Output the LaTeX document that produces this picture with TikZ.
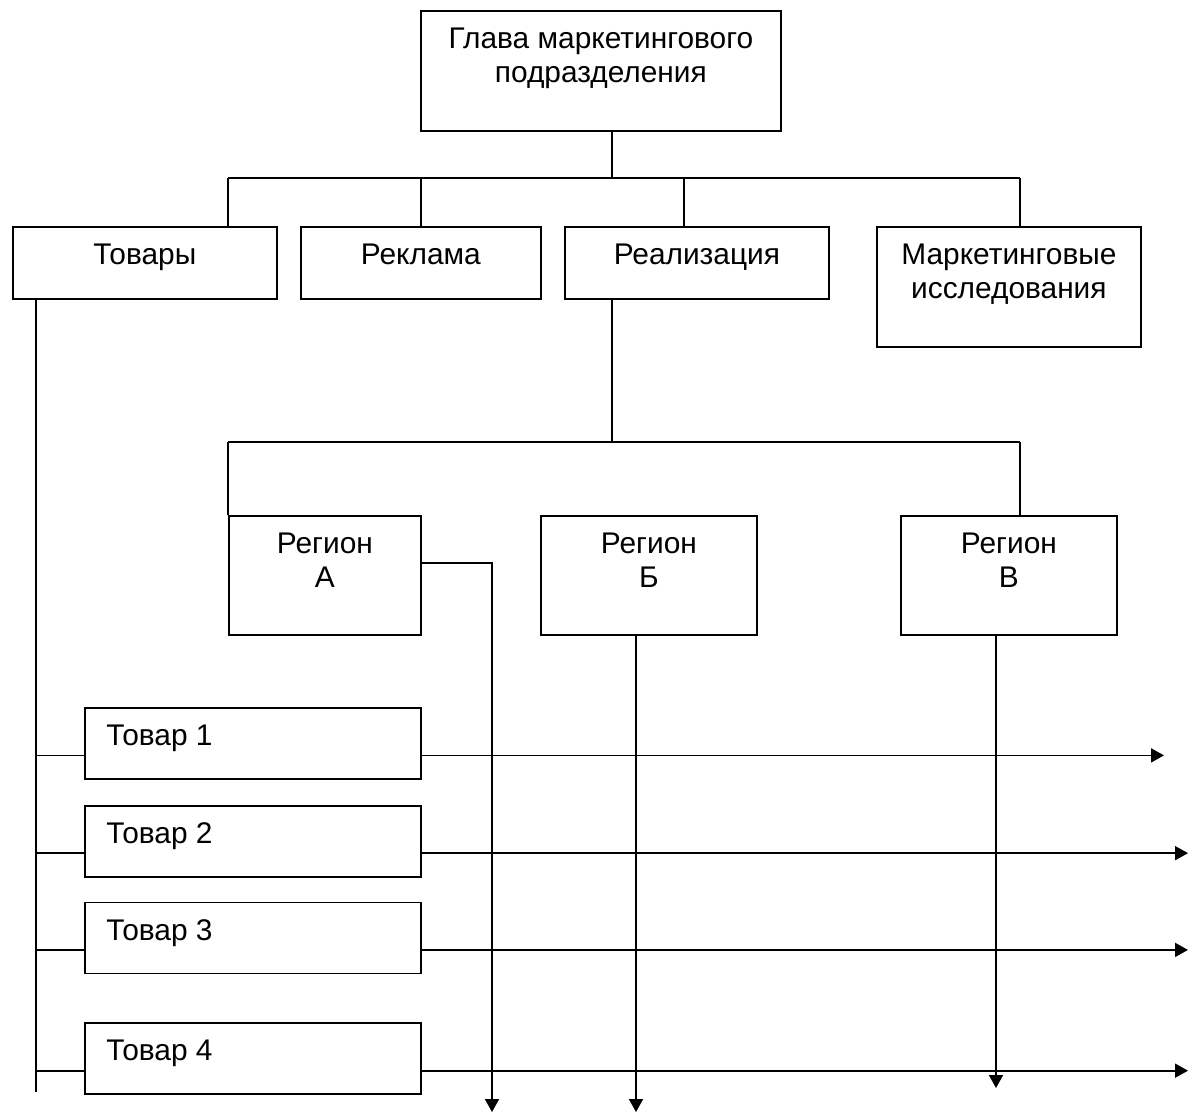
\documentclass[tikz,border=0pt]{standalone}
\usepackage{fontspec}
\setmainfont{Liberation Sans}
\usetikzlibrary{arrows.meta,positioning}
\begin{document}
\begin{tikzpicture}[
    box/.style={draw, line width=1pt, anchor=north west, inner sep=0pt},
    txt/.style={anchor=north, yshift=-0.36cm, inner sep=0pt, align=center},
    txtl/.style={anchor=north west, xshift=0.44cm, yshift=-0.35cm, inner sep=0pt},
    line/.style={line width=1pt},
    arr/.style={line width=1pt, -{Triangle[length=0.26cm,width=0.28cm]}},
    font=\fontsize{17pt}{19pt}\selectfont]

\useasboundingbox (0,0) rectangle (24,-22.3);

\node[box, minimum width=7.2cm, minimum height=2.4cm,
      label={[txt]north:{Глава маркетингового\\подразделения}}] (head) at (8.4,-0.2) {};

\node[box, minimum width=5.28cm, minimum height=1.44cm, label={[txt]north:Товары}] (tovary) at (0.24,-4.52) {};
\node[box, minimum width=4.8cm, minimum height=1.44cm, label={[txt]north:Реклама}] (reklama) at (6.0,-4.52) {};
\node[box, minimum width=5.28cm, minimum height=1.44cm, label={[txt]north:Реализация}] (realiz) at (11.28,-4.52) {};
\node[box, minimum width=5.28cm, minimum height=2.4cm,
      label={[txt]north:{Маркетинговые\\исследования}}] (issled) at (17.52,-4.52) {};

\node[box, minimum width=3.84cm, minimum height=2.38cm, label={[txt]north:{Регион\\А}}] (regA) at (4.56,-10.3) {};
\node[box, minimum width=4.32cm, minimum height=2.38cm, label={[txt]north:{Регион\\Б}}] (regB) at (10.8,-10.3) {};
\node[box, minimum width=4.32cm, minimum height=2.38cm, label={[txt]north:{Регион\\В}}] (regV) at (18.0,-10.3) {};

\node[box, minimum width=6.72cm, minimum height=1.42cm, label={[txtl]north west:Товар 1}] (tov1) at (1.68,-14.14) {};
\node[box, minimum width=6.72cm, minimum height=1.42cm, label={[txtl]north west:Товар 2},
      below=0.5cm of tov1.south west, anchor=north west] (tov2) {};
\node[box, minimum width=6.72cm, minimum height=1.42cm, label={[txtl]north west:Товар 3},
      below=0.48cm of tov2.south west, anchor=north west] (tov3) {};
\node[box, minimum width=6.72cm, minimum height=1.42cm, label={[txtl]north west:Товар 4},
      below=0.96cm of tov3.south west, anchor=north west] (tov4) {};

\coordinate (busL) at (4.56,-3.56);
\coordinate (busR) at (20.4,-3.56);
\coordinate (busH) at (12.24,-3.56);
\coordinate (busM) at (13.68,-3.56);
\coordinate (subL) at (4.56,-8.84);
\coordinate (subR) at (20.4,-8.84);
\coordinate (subM) at (12.24,-8.84);
\coordinate (a1) at (9.84,-11.26);
\coordinate (b1) at (12.72,-22.24);
\coordinate (v1) at (19.92,-21.76);
\coordinate (trunk) at (0.72,-21.84);
\coordinate (end1) at (23.28,0);
\coordinate (end2) at (23.76,0);

\draw[line] (busH |- head.south) -- (busH);
\draw[line] (busL) -- (busR);
\draw[line] (busL) -- (busL |- tovary.north);
\draw[line] (reklama.north |- busL) -- (reklama.north);
\draw[line] (busM) -- (busM |- realiz.north);
\draw[line] (busR) -- (busR |- issled.north);

\draw[line] (subM |- realiz.south) -- (subM);
\draw[line] (subL) -- (subR);
\draw[line] (subL) -- (subL |- regA.north);
\draw[line] (subR) -- (subR |- regV.north);

\draw[arr] (regA.east |- a1) -- (a1) -- (a1 |- b1);
\draw[arr] (regB.south -| b1) -- (b1);
\draw[arr] (regV.south -| v1) -- (v1);

\draw[line] (tovary.south -| trunk) -- (trunk);
\foreach \i/\e in {1/end1,2/end2,3/end2,4/end2} {
    \coordinate (l\i) at ([yshift=-0.24cm]tov\i.west);
    \coordinate (r\i) at ([yshift=-0.24cm]tov\i.east);
    \draw[line] (l\i -| trunk) -- (l\i);
    \draw[arr] (r\i) -- (r\i -| \e);
}

\end{tikzpicture}
\end{document}
